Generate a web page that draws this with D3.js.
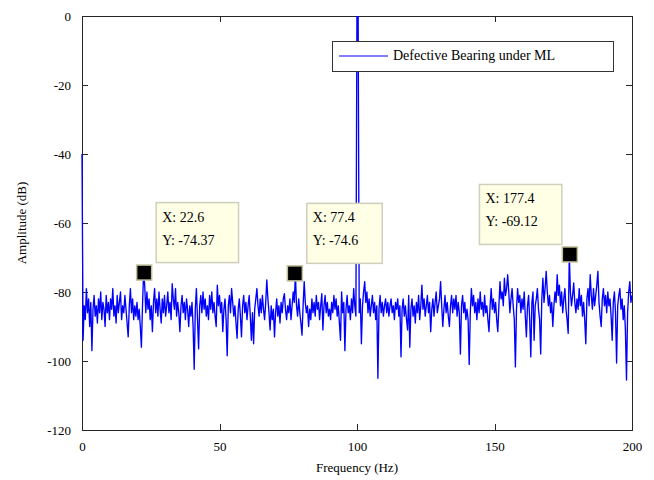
<!DOCTYPE html>
<html lang="en">
<head>
	<meta charset="utf-8">
	<title>Defective Bearing under ML</title>
	<script src="https://d3js.org/d3.v7.min.js"></script>
	<style type="text/css">
		body { margin: 0; background: #fff; }
		svg text {
			font-family: "Liberation Serif", "Times New Roman", serif;
			fill: #000;
		}
		.axis path,
		.axis line {
			fill: none;
			stroke: #262626;
			shape-rendering: crispEdges;
		}
		.axis text {
			font-size: 13px;
		}
	</style>
</head>
<body>
<script type="text/javascript">

	// Spectrum, one value every 0.4 Hz from 0 to 200 Hz
	var freqStep = 0.4;
	var amplitude = [
		-40,-94,-84,-88,-79,-86,-82,-90,-83,-97,-85,-81,-87,-84,-89,-82,-86,-80,-88,-83,-85,-90,-81,-86,-83,
		-88,-82,-85,-79,-87,-84,-89,-81,-86,-83,-80,-88,-84,-86,-81,-85,-89,-93,-84,-79,-86,-82,-88,-84,-87,
		-83,-88,-85,-90,-96,-84,-74.4,-78,-86,-80,-85,-82,-88,-84,-91.5,-83,-79,-86,-82,-87,-80,-85,-89,-82,-86,
		-81,-87,-84,-80,-86,-83,-88,-77.6,-82,-85,-79,-87,-83,-86,-91.5,-84,-81,-86,-83,-88,-82,-85,-90,-84,-87,
		-83,-90,-102.4,-85,-79,-88,-96.5,-84,-81,-86,-80,-85,-82,-87,-84,-88,-81,-85,-80,-86,-83,-87,-90,-78,-84,
		-81,-86,-83,-91.5,-85,-82,-88,-98.5,-84,-81,-86,-79,-83,-87,-84,-89,-93.4,-85,-82,-87,-93,-84,-81,-86,-83,
		-88,-84,-81,-87,-94,-86,-95,-85,-82,-79,-84,-87,-82,-86,-81,-85,-88,-83,-76.5,-82,-86,-91,-84,-88,-85,
		-93,-86,-82,-87,-84,-89,-83,-86,-82,-80.5,-85,-88,-84,-86,-82,-88,-84,-80,-83,-74.6,-84,-87,-82,-86,-89,
		-92.5,-84,-77,-83,-86,-84,-90,-85,-88,-82,-86,-83,-87,-81,-85,-83,-88,-84,-80.5,-91,-84,-81,-86,-83,-87,
		-85,-88,-83,-86,-81,-85,-82,-87,-84,-89,-94,-80,-86,-83,-97,-85,-81,-86,-84,-88,-82,-86,-79,-84,-87,
		6,4,-86,-82,-95,-84,-80,-77,-83,-80,-86,-82,-87,-84,-81,-86,-83,-88,-84,-105,-85,-81,-86,-83,-87,
		-84,-82,-86,-83,-87,-84,-82,-86,-84,-88,-83,-85,-82,-87,-84,-98.8,-85,-82,-87,-84,-88,-91,-81,-96,-85,
		-82,-87,-84,-89,-83,-86,-81,-88,-84,-78,-85,-82,-87,-84,-81,-86,-83,-91.5,-85,-82,-87,-83,-80,-86,-84,
		-82,-77,-84,-90,-85,-81,-86,-83,-87,-90,-84,-81,-86,-82,-85,-81,-87,-83,-86,-98,-84,-81,-86,-83,-88,
		-85,-88,-101,-86,-79,-84,-81,-86,-83,-88,-82,-86,-80,-85,-83,-87,-81,-86,-84,-88,-91.5,-84,-79,-85,-82,
		-86,-83,-88,-91.5,-84,-77,-82,-80,-84,-76,-81,-79,-75,-80,-86,-82,-79,-84,-88,-101.7,-85,-79,-83,-81,-86,
		-82,-85,-80,-87,-93,-84,-81,-88,-98.8,-83,-80,-94,-84,-82,-79,-85,-88,-98,-82,-76,-83,-79,-74,-80,-84,
		-81,-86,-83,-90,-84,-80,-83,-75,-81,-78,-84,-80,-86,-82,-79,-85,-88,-92,-69.1,-80,-84,-81,-77.4,-83,-86,
		-82,-85,-79,-84,-81,-87,-83,-88,-95,-82,-79,-84,-75,-81,-85,-79,-84,-81,-78,-74,-83,-87,-90,-82,-79,
		-84,-81,-86,-80,-84,-82,-87,-94,-83,-80,-86,-100.6,-84,-81,-79,-85,-82,-88,-84,-91,-105.5,-86,-80,-77,-83,
		-81
	];

	var xTicks = [0, 50, 100, 150, 200];
	var yTicks = [0, -20, -40, -60, -80, -100, -120];

	// Data tips placed on the plot
	var tipX = [22.6, 77.4, 177.4];
	var tipY = [-74.37, -74.6, -69.12];
	var tipSide = ["right", "right", "left"];

	var legendLabel = "Defective Bearing under ML";
	var xLabel = "Frequency (Hz)";
	var yLabel = "Amplitude (dB)";

	// Layout
	var outer_width = 654;
	var outer_height = 480;
	var margin = {top: 16, right: 22, bottom: 50, left: 82};
	var plot_width = outer_width - margin.left - margin.right;
	var plot_height = outer_height - margin.top - margin.bottom;

	var svg = d3.select("body")
				.append("svg")
				.attr("width", outer_width)
				.attr("height", outer_height);

	var g = svg.append("g")
			   .attr("transform", "translate(" + margin.left + "," + margin.top + ")");

	var xScale = d3.scaleLinear()
				   .domain([0, 200])
				   .range([0, plot_width]);

	var yScale = d3.scaleLinear()
				   .domain([-120, 0])
				   .range([plot_height, 0]);

	// plain hyphen minus like the original figure
	var plainFormat = function(d) { return String(d); };

	// Axes box
	g.append("rect")
		.attr("width", plot_width)
		.attr("height", plot_height)
		.attr("fill", "none")
		.attr("stroke", "#262626")
		.attr("shape-rendering", "crispEdges");

	// Axes, ticks pointing inwards on all four sides
	g.append("g")
		.attr("class", "axis")
		.attr("transform", "translate(0," + plot_height + ")")
		.call(d3.axisBottom(xScale).tickValues(xTicks).tickFormat(plainFormat)
			.tickSizeInner(-6).tickSizeOuter(0).tickPadding(12));

	g.append("g")
		.attr("class", "axis")
		.call(d3.axisTop(xScale).tickValues(xTicks).tickSizeInner(-6).tickSizeOuter(0).tickFormat(""));

	g.append("g")
		.attr("class", "axis")
		.call(d3.axisLeft(yScale).tickValues(yTicks).tickFormat(plainFormat)
			.tickSizeInner(-6).tickSizeOuter(0).tickPadding(11));

	g.append("g")
		.attr("class", "axis")
		.attr("transform", "translate(" + plot_width + ",0)")
		.call(d3.axisRight(yScale).tickValues(yTicks).tickSizeInner(-6).tickSizeOuter(0).tickFormat(""));

	g.selectAll(".axis text").attr("font-size", "13px");

	// Clip the spectrum to the axes box
	g.append("clipPath")
		.attr("id", "plot-clip")
		.append("rect")
		.attr("x", -1)
		.attr("width", plot_width + 1)
		.attr("height", plot_height);

	var line = d3.line()
				 .x(function(d, i) { return xScale(i * freqStep); })
				 .y(function(d) { return yScale(d); });

	g.append("path")
		.datum(amplitude)
		.attr("clip-path", "url(#plot-clip)")
		.attr("fill", "none")
		.attr("stroke", "#0000ff")
		.attr("stroke-width", 1.35)
		.attr("stroke-linejoin", "round")
		.attr("d", line);

	// Legend
	var legend = g.append("g")
				  .attr("transform", "translate(" + (plot_width - 300) + ",25)");
	legend.append("rect")
		.attr("width", 281)
		.attr("height", 30)
		.attr("fill", "#fff")
		.attr("stroke", "#333")
		.attr("shape-rendering", "crispEdges");
	legend.append("line")
		.attr("x1", 7).attr("x2", 56)
		.attr("y1", 15).attr("y2", 15)
		.attr("stroke", "#0000ff")
		.attr("stroke-width", 1.2);
	legend.append("text")
		.attr("x", 61)
		.attr("y", 15)
		.attr("dy", "0.32em")
		.attr("font-size", "14px")
		.text(legendLabel);

	// Data tips
	tipX.forEach(function(fx, k) {
		var px = xScale(fx);
		var py = yScale(tipY[k]);
		var tip = g.append("g");

		var box = tip.append("rect")
					 .attr("fill", "#ffffe6")
					 .attr("stroke", "#cfcfbd")
					 .attr("stroke-width", 1.5);

		var t1 = tip.append("text")
					.attr("font-size", "14px")
					.text("X: " + fx);
		var t2 = tip.append("text")
					.attr("font-size", "14px")
					.text("Y: " + tipY[k]);

		var w = Math.max(t1.node().getComputedTextLength(), t2.node().getComputedTextLength()) + 30;
		var h = 60;
		var left = tipSide[k] === "right" ? px + 12 : px - 8 - w;
		var top = py - 10 - h;

		box.attr("x", left).attr("y", top).attr("width", w).attr("height", h);
		t1.attr("x", left + 6).attr("y", top + 19);
		t2.attr("x", left + 6).attr("y", top + 42);

		tip.append("rect")
			.attr("x", px - 7.5)
			.attr("y", py - 7.5)
			.attr("width", 15)
			.attr("height", 15)
			.attr("fill", "#000")
			.attr("stroke", "#c2c09a")
			.attr("stroke-width", 1.5);
	});

	// Axis labels
	svg.append("text")
		.attr("x", margin.left + plot_width / 2)
		.attr("y", 468)
		.attr("dy", "0.32em")
		.attr("text-anchor", "middle")
		.attr("font-size", "13px")
		.text(xLabel);

	svg.append("text")
		.attr("transform", "translate(22," + (margin.top + plot_height / 2) + ") rotate(-90)")
		.attr("dy", "0.32em")
		.attr("text-anchor", "middle")
		.attr("font-size", "13px")
		.text(yLabel);

</script>
</body>
</html>
